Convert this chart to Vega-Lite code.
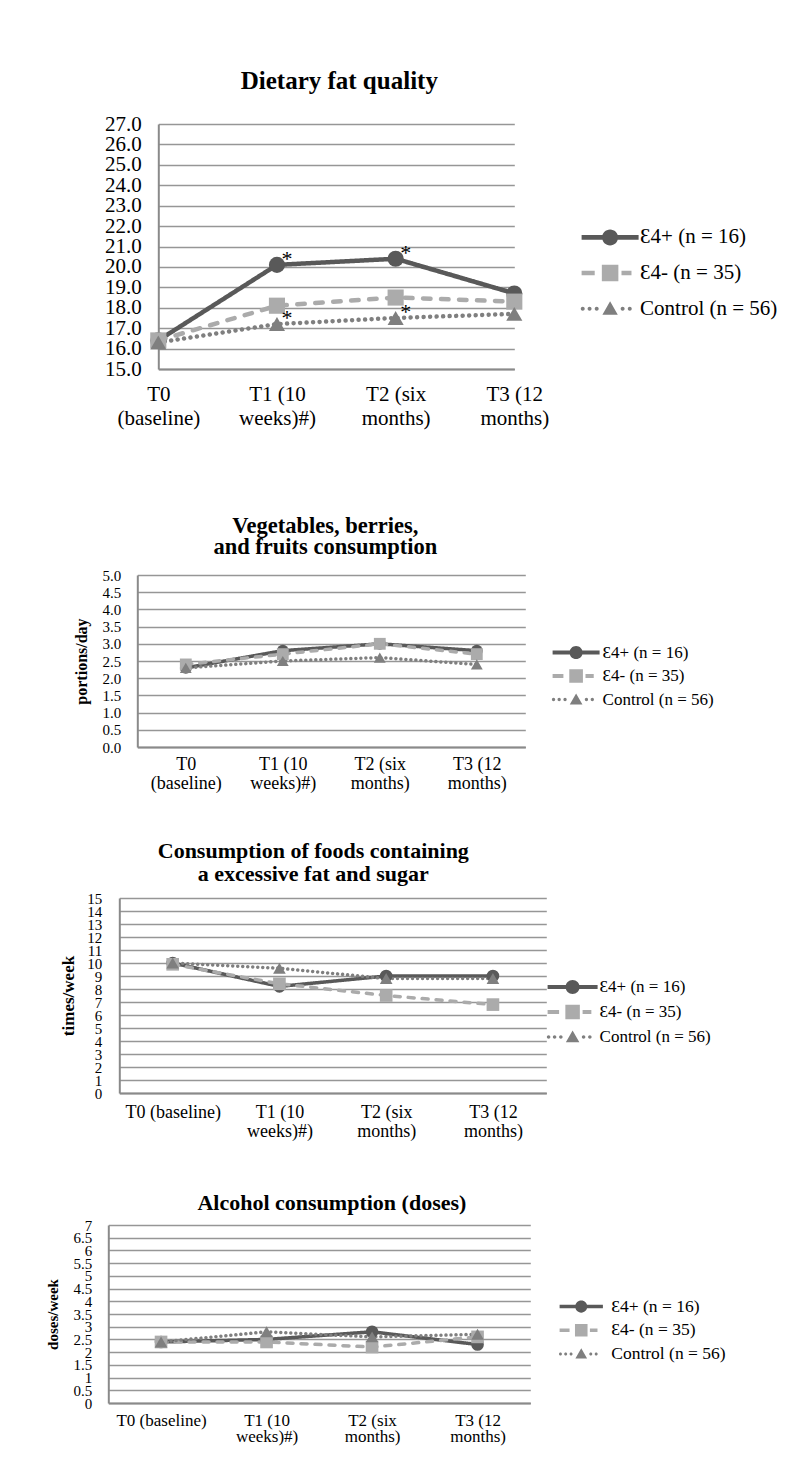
{
  "$schema": "https://vega.github.io/schema/vega-lite/v6.json",
  "background": "white",
  "padding": {"left": 0, "top": 69, "right": 0, "bottom": 5},
  "config": {
    "font": "Liberation Serif",
    "view": {"stroke": null},
    "axis": {"labelColor": "#000", "titleColor": "#000", "ticks": false, "tickSize": 0, "labelOverlap": false, "labelFlush": false, "labelBound": false, "title": null},
    "axisY": {"grid": true, "gridColor": "#969696", "gridWidth": 1.3, "domainColor": "#8a8a8a", "domainWidth": 2},
    "axisX": {"grid": false, "domainColor": "#8a8a8a", "domainWidth": 2, "labelAngle": 0, "labelBaseline": "top"},
    "title": {"color": "#000", "fontWeight": "bold", "anchor": "middle", "frame": "group", "baseline": "bottom"}
  },
  "datasets": {
    "blank": [{}],
    "groups": [
      {"series": "Ɛ4+ (n = 16)"},
      {"series": "Ɛ4- (n = 35)"},
      {"series": "Control (n = 56)"}
    ],
    "fat": [
      {"series": "Ɛ4+ (n = 16)", "time": "T0 (baseline)", "value": 16.4},
      {"series": "Ɛ4+ (n = 16)", "time": "T1 (10 weeks)#)", "value": 20.1},
      {"series": "Ɛ4+ (n = 16)", "time": "T2 (six months)", "value": 20.4},
      {"series": "Ɛ4+ (n = 16)", "time": "T3 (12 months)", "value": 18.7},
      {"series": "Ɛ4- (n = 35)", "time": "T0 (baseline)", "value": 16.4},
      {"series": "Ɛ4- (n = 35)", "time": "T1 (10 weeks)#)", "value": 18.1},
      {"series": "Ɛ4- (n = 35)", "time": "T2 (six months)", "value": 18.5},
      {"series": "Ɛ4- (n = 35)", "time": "T3 (12 months)", "value": 18.3},
      {"series": "Control (n = 56)", "time": "T0 (baseline)", "value": 16.3},
      {"series": "Control (n = 56)", "time": "T1 (10 weeks)#)", "value": 17.2},
      {"series": "Control (n = 56)", "time": "T2 (six months)", "value": 17.5},
      {"series": "Control (n = 56)", "time": "T3 (12 months)", "value": 17.7}
    ],
    "stars": [
      {"time": "T1 (10 weeks)#)", "value": 20.1, "label": "*"},
      {"time": "T2 (six months)", "value": 20.4, "label": "*"},
      {"time": "T1 (10 weeks)#)", "value": 17.2, "label": "*"},
      {"time": "T2 (six months)", "value": 17.5, "label": "*"}
    ],
    "veg": [
      {"series": "Ɛ4+ (n = 16)", "time": "T0 (baseline)", "value": 2.3},
      {"series": "Ɛ4+ (n = 16)", "time": "T1 (10 weeks)#)", "value": 2.8},
      {"series": "Ɛ4+ (n = 16)", "time": "T2 (six months)", "value": 3.0},
      {"series": "Ɛ4+ (n = 16)", "time": "T3 (12 months)", "value": 2.8},
      {"series": "Ɛ4- (n = 35)", "time": "T0 (baseline)", "value": 2.4},
      {"series": "Ɛ4- (n = 35)", "time": "T1 (10 weeks)#)", "value": 2.7},
      {"series": "Ɛ4- (n = 35)", "time": "T2 (six months)", "value": 3.0},
      {"series": "Ɛ4- (n = 35)", "time": "T3 (12 months)", "value": 2.7},
      {"series": "Control (n = 56)", "time": "T0 (baseline)", "value": 2.3},
      {"series": "Control (n = 56)", "time": "T1 (10 weeks)#)", "value": 2.5},
      {"series": "Control (n = 56)", "time": "T2 (six months)", "value": 2.6},
      {"series": "Control (n = 56)", "time": "T3 (12 months)", "value": 2.4}
    ],
    "sugar": [
      {"series": "Ɛ4+ (n = 16)", "time": "T0 (baseline)", "value": 10.0},
      {"series": "Ɛ4+ (n = 16)", "time": "T1 (10 weeks)#)", "value": 8.2},
      {"series": "Ɛ4+ (n = 16)", "time": "T2 (six months)", "value": 9.0},
      {"series": "Ɛ4+ (n = 16)", "time": "T3 (12 months)", "value": 9.0},
      {"series": "Ɛ4- (n = 35)", "time": "T0 (baseline)", "value": 9.9},
      {"series": "Ɛ4- (n = 35)", "time": "T1 (10 weeks)#)", "value": 8.4},
      {"series": "Ɛ4- (n = 35)", "time": "T2 (six months)", "value": 7.5},
      {"series": "Ɛ4- (n = 35)", "time": "T3 (12 months)", "value": 6.8},
      {"series": "Control (n = 56)", "time": "T0 (baseline)", "value": 10.0},
      {"series": "Control (n = 56)", "time": "T1 (10 weeks)#)", "value": 9.6},
      {"series": "Control (n = 56)", "time": "T2 (six months)", "value": 8.8},
      {"series": "Control (n = 56)", "time": "T3 (12 months)", "value": 8.8}
    ],
    "alcohol": [
      {"series": "Ɛ4+ (n = 16)", "time": "T0 (baseline)", "value": 2.4},
      {"series": "Ɛ4+ (n = 16)", "time": "T1 (10 weeks)#)", "value": 2.5},
      {"series": "Ɛ4+ (n = 16)", "time": "T2 (six months)", "value": 2.8},
      {"series": "Ɛ4+ (n = 16)", "time": "T3 (12 months)", "value": 2.3},
      {"series": "Ɛ4- (n = 35)", "time": "T0 (baseline)", "value": 2.4},
      {"series": "Ɛ4- (n = 35)", "time": "T1 (10 weeks)#)", "value": 2.4},
      {"series": "Ɛ4- (n = 35)", "time": "T2 (six months)", "value": 2.2},
      {"series": "Ɛ4- (n = 35)", "time": "T3 (12 months)", "value": 2.6},
      {"series": "Control (n = 56)", "time": "T0 (baseline)", "value": 2.4},
      {"series": "Control (n = 56)", "time": "T1 (10 weeks)#)", "value": 2.8},
      {"series": "Control (n = 56)", "time": "T2 (six months)", "value": 2.6},
      {"series": "Control (n = 56)", "time": "T3 (12 months)", "value": 2.7}
    ]
  },
  "columns": 1,
  "spacing": 10,
  "concat": [
    {
      "spacing": 67.3, "bounds": "flush",
      "resolve": {"scale": {"color": "independent", "shape": "independent", "strokeDash": "independent"}},
      "hconcat": [
        {"width": 91, "height": 10, "data": {"name": "blank"}, "mark": {"type": "point", "opacity": 0}},
        {
          "width": 356, "height": 245,
          "title": {"text": "Dietary fat quality", "fontSize": 25, "offset": 19, "dx": 3},
          "data": {"name": "fat"},
          "encoding": {
            "x": {"field": "time", "type": "ordinal", "sort": null,
              "scale": {"type": "point", "padding": 0, "domain": ["T0 (baseline)", "T1 (10 weeks)#)", "T2 (six months)", "T3 (12 months)"]},
              "axis": {"labelFontSize": 21, "labelLineHeight": 24, "labelPadding": 14, "minExtent": 136, "maxExtent": 136,
                "labelExpr": "[substring(datum.label, 0, lastindexof(datum.label, ' ')), substring(datum.label, lastindexof(datum.label, ' ') + 1)]"}},
            "y": {"field": "value", "type": "quantitative",
              "scale": {"domain": [15, 27], "nice": false, "zero": false},
              "axis": {"values": [15, 16, 17, 18, 19, 20, 21, 22, 23, 24, 25, 26, 27], "format": ".1f", "labelFontSize": 21, "labelPadding": 17, "minExtent": 158, "maxExtent": 158}},
            "color": {"field": "series", "type": "nominal", "scale": {"domain": ["Ɛ4+ (n = 16)", "Ɛ4- (n = 35)", "Control (n = 56)"], "range": ["#595959", "#ababab", "#7f7f7f"]}, "legend": null}
          },
          "layer": [
            {"mark": {"type": "line", "strokeWidth": 4.5, "strokeCap": "round"},
              "encoding": {"strokeDash": {"field": "series", "type": "nominal", "scale": {"domain": ["Ɛ4+ (n = 16)", "Ɛ4- (n = 35)", "Control (n = 56)"], "range": [[1, 0], [7.5, 10.5], [0.01, 6.5]]}, "legend": null}}},
            {"mark": {"type": "point", "filled": true, "opacity": 1, "size": 260},
              "encoding": {"shape": {"field": "series", "type": "nominal", "scale": {"domain": ["Ɛ4+ (n = 16)", "Ɛ4- (n = 35)", "Control (n = 56)"], "range": ["circle", "square", "triangle-up"]}, "legend": null}}},
            {"data": {"name": "stars"},
              "mark": {"type": "text", "fontSize": 22, "dx": 10, "dy": 1, "baseline": "alphabetic"},
              "encoding": {"text": {"field": "label"}, "color": {"value": "#000"}}}
          ]
        },
        {
          "width": 57, "height": 245,
          "data": {"name": "groups"},
          "encoding": {
            "y": {"field": "series", "type": "nominal", "sort": null, "axis": null,
              "scale": {"type": "point", "domain": ["Ɛ4+ (n = 16)", "Ɛ4- (n = 35)", "Control (n = 56)"], "padding": 0, "range": [113.4, 184.7]}}
          },
          "layer": [
            {"mark": {"type": "point", "filled": true, "opacity": 1, "size": 3249},
              "encoding": {
                "color": {"field": "series", "type": "nominal", "scale": {"domain": ["Ɛ4+ (n = 16)", "Ɛ4- (n = 35)", "Control (n = 56)"], "range": ["#595959", "#ababab", "#7f7f7f"]}, "legend": null},
                "shape": {"field": "series", "type": "nominal", "legend": null, "scale": {"domain": ["Ɛ4+ (n = 16)", "Ɛ4- (n = 35)", "Control (n = 56)"],
                  "range": ["M-1,-0.08H1V0.08H-1Z M-0.28,0 A0.28,0.28 0 1 1 0.28,0 A0.28,0.28 0 1 1 -0.28,0 Z",
                            "M-1,-0.08H-0.54V0.08H-1Z M-0.29,-0.29H0.29V0.29H-0.29Z M0.4,-0.08H0.75V0.08H0.4Z",
                            "M-1.03,0 A0.07,0.07 0 1 1 -0.89,0 A0.07,0.07 0 1 1 -1.03,0 Z M-0.79,0 A0.07,0.07 0 1 1 -0.65,0 A0.07,0.07 0 1 1 -0.79,0 Z M-0.54,0 A0.07,0.07 0 1 1 -0.4,0 A0.07,0.07 0 1 1 -0.54,0 Z M0.37,0 A0.07,0.07 0 1 1 0.51,0 A0.07,0.07 0 1 1 0.37,0 Z M0.62,0 A0.07,0.07 0 1 1 0.76,0 A0.07,0.07 0 1 1 0.62,0 Z M0,-0.26 L0.27,0.21 L-0.27,0.21 Z"]}}
              }},
            {"mark": {"type": "text", "align": "left", "baseline": "middle", "dx": 30, "fontSize": 21},
              "encoding": {"text": {"field": "series"}, "color": {"value": "#000"}}}
          ]
        }
      ]
    },
    {
      "spacing": 27.3, "bounds": "flush",
      "resolve": {"scale": {"color": "independent", "shape": "independent", "strokeDash": "independent"}},
      "hconcat": [
        {"width": 110, "height": 10, "data": {"name": "blank"}, "mark": {"type": "point", "opacity": 0}},
        {
          "width": 388, "height": 172,
          "title": {"text": ["Vegetables, berries,", "and fruits consumption"], "fontSize": 22.5, "lineHeight": 21, "offset": 9.5, "dx": -6},
          "data": {"name": "veg"},
          "encoding": {
            "x": {"field": "time", "type": "ordinal", "sort": null,
              "scale": {"type": "point", "padding": 0.5, "domain": ["T0 (baseline)", "T1 (10 weeks)#)", "T2 (six months)", "T3 (12 months)"]},
              "axis": {"labelFontSize": 18, "labelLineHeight": 19, "labelPadding": 8, "minExtent": 82.5, "maxExtent": 82.5,
                "labelExpr": "[substring(datum.label, 0, lastindexof(datum.label, ' ')), substring(datum.label, lastindexof(datum.label, ' ') + 1)]"}},
            "y": {"field": "value", "type": "quantitative",
              "scale": {"domain": [0, 5], "nice": false},
              "axis": {"values": [0, 0.5, 1, 1.5, 2, 2.5, 3, 3.5, 4, 4.5, 5], "format": ".1f", "labelFontSize": 15, "labelPadding": 16.5, "minExtent": 137, "maxExtent": 137,
                "title": "portions/day", "titleFontSize": 16, "titleFontWeight": "bold", "titleX": -56, "titleY": 86, "titleAngle": 270, "titleBaseline": "middle", "titleAlign": "center"}},
            "color": {"field": "series", "type": "nominal", "scale": {"domain": ["Ɛ4+ (n = 16)", "Ɛ4- (n = 35)", "Control (n = 56)"], "range": ["#595959", "#ababab", "#7f7f7f"]}, "legend": null}
          },
          "layer": [
            {"mark": {"type": "line", "strokeWidth": 3.5, "strokeCap": "round"},
              "encoding": {"strokeDash": {"field": "series", "type": "nominal", "scale": {"domain": ["Ɛ4+ (n = 16)", "Ɛ4- (n = 35)", "Control (n = 56)"], "range": [[1, 0], [6, 8], [0.01, 5]]}, "legend": null}}},
            {"mark": {"type": "point", "filled": true, "opacity": 1, "size": 140},
              "encoding": {"shape": {"field": "series", "type": "nominal", "scale": {"domain": ["Ɛ4+ (n = 16)", "Ɛ4- (n = 35)", "Control (n = 56)"], "range": ["circle", "square", "triangle-up"]}, "legend": null}}}
          ]
        },
        {
          "width": 47, "height": 172,
          "data": {"name": "groups"},
          "encoding": {
            "y": {"field": "series", "type": "nominal", "sort": null, "axis": null,
              "scale": {"type": "point", "domain": ["Ɛ4+ (n = 16)", "Ɛ4- (n = 35)", "Control (n = 56)"], "padding": 0, "range": [77.5, 124.5]}}
          },
          "layer": [
            {"mark": {"type": "point", "filled": true, "opacity": 1, "size": 2209},
              "encoding": {
                "color": {"field": "series", "type": "nominal", "scale": {"domain": ["Ɛ4+ (n = 16)", "Ɛ4- (n = 35)", "Control (n = 56)"], "range": ["#595959", "#ababab", "#7f7f7f"]}, "legend": null},
                "shape": {"field": "series", "type": "nominal", "legend": null, "scale": {"domain": ["Ɛ4+ (n = 16)", "Ɛ4- (n = 35)", "Control (n = 56)"],
                  "range": ["M-1,-0.08H1V0.08H-1Z M-0.28,0 A0.28,0.28 0 1 1 0.28,0 A0.28,0.28 0 1 1 -0.28,0 Z",
                            "M-1,-0.08H-0.54V0.08H-1Z M-0.29,-0.29H0.29V0.29H-0.29Z M0.4,-0.08H0.75V0.08H0.4Z",
                            "M-1.03,0 A0.07,0.07 0 1 1 -0.89,0 A0.07,0.07 0 1 1 -1.03,0 Z M-0.79,0 A0.07,0.07 0 1 1 -0.65,0 A0.07,0.07 0 1 1 -0.79,0 Z M-0.54,0 A0.07,0.07 0 1 1 -0.4,0 A0.07,0.07 0 1 1 -0.54,0 Z M0.37,0 A0.07,0.07 0 1 1 0.51,0 A0.07,0.07 0 1 1 0.37,0 Z M0.62,0 A0.07,0.07 0 1 1 0.76,0 A0.07,0.07 0 1 1 0.62,0 Z M0,-0.26 L0.27,0.21 L-0.27,0.21 Z"]}}
              }},
            {"mark": {"type": "text", "align": "left", "baseline": "middle", "dx": 26.5, "fontSize": 17},
              "encoding": {"text": {"field": "series"}, "color": {"value": "#000"}}}
          ]
        }
      ]
    },
    {
      "spacing": 1.3, "bounds": "flush",
      "resolve": {"scale": {"color": "independent", "shape": "independent", "strokeDash": "independent"}},
      "hconcat": [
        {"width": 118, "height": 10, "data": {"name": "blank"}, "mark": {"type": "point", "opacity": 0}},
        {
          "width": 427, "height": 195,
          "title": {"text": ["Consumption of foods containing", "a excessive fat and sugar"], "fontSize": 22, "lineHeight": 23, "offset": 5, "dx": -19.5},
          "data": {"name": "sugar"},
          "encoding": {
            "x": {"field": "time", "type": "ordinal", "sort": null,
              "scale": {"type": "point", "padding": 0.5, "domain": ["T0 (baseline)", "T1 (10 weeks)#)", "T2 (six months)", "T3 (12 months)"]},
              "axis": {"labelFontSize": 18, "labelLineHeight": 19, "labelPadding": 10, "minExtent": 88.7, "maxExtent": 88.7,
                "labelExpr": "datum.label == 'T0 (baseline)' ? datum.label : [substring(datum.label, 0, lastindexof(datum.label, ' ')), substring(datum.label, lastindexof(datum.label, ' ') + 1)]"}},
            "y": {"field": "value", "type": "quantitative",
              "scale": {"domain": [0, 15], "nice": false},
              "axis": {"values": [0, 1, 2, 3, 4, 5, 6, 7, 8, 9, 10, 11, 12, 13, 14, 15], "format": "d", "labelFontSize": 15, "labelPadding": 17.5, "minExtent": 119, "maxExtent": 119,
                "title": "times/week", "titleFontSize": 17, "titleFontWeight": "bold", "titleX": -51, "titleY": 97.5, "titleAngle": 270, "titleBaseline": "middle", "titleAlign": "center"}},
            "color": {"field": "series", "type": "nominal", "scale": {"domain": ["Ɛ4+ (n = 16)", "Ɛ4- (n = 35)", "Control (n = 56)"], "range": ["#595959", "#ababab", "#7f7f7f"]}, "legend": null}
          },
          "layer": [
            {"mark": {"type": "line", "strokeWidth": 3.5, "strokeCap": "round"},
              "encoding": {"strokeDash": {"field": "series", "type": "nominal", "scale": {"domain": ["Ɛ4+ (n = 16)", "Ɛ4- (n = 35)", "Control (n = 56)"], "range": [[1, 0], [6, 8], [0.01, 5]]}, "legend": null}}},
            {"mark": {"type": "point", "filled": true, "opacity": 1, "size": 160},
              "encoding": {"shape": {"field": "series", "type": "nominal", "scale": {"domain": ["Ɛ4+ (n = 16)", "Ɛ4- (n = 35)", "Control (n = 56)"], "range": ["circle", "square", "triangle-up"]}, "legend": null}}}
          ]
        },
        {
          "width": 50, "height": 195,
          "data": {"name": "groups"},
          "encoding": {
            "y": {"field": "series", "type": "nominal", "sort": null, "axis": null,
              "scale": {"type": "point", "domain": ["Ɛ4+ (n = 16)", "Ɛ4- (n = 35)", "Control (n = 56)"], "padding": 0, "range": [89, 139]}}
          },
          "layer": [
            {"mark": {"type": "point", "filled": true, "opacity": 1, "size": 2500},
              "encoding": {
                "color": {"field": "series", "type": "nominal", "scale": {"domain": ["Ɛ4+ (n = 16)", "Ɛ4- (n = 35)", "Control (n = 56)"], "range": ["#595959", "#ababab", "#7f7f7f"]}, "legend": null},
                "shape": {"field": "series", "type": "nominal", "legend": null, "scale": {"domain": ["Ɛ4+ (n = 16)", "Ɛ4- (n = 35)", "Control (n = 56)"],
                  "range": ["M-1,-0.08H1V0.08H-1Z M-0.28,0 A0.28,0.28 0 1 1 0.28,0 A0.28,0.28 0 1 1 -0.28,0 Z",
                            "M-1,-0.08H-0.54V0.08H-1Z M-0.29,-0.29H0.29V0.29H-0.29Z M0.4,-0.08H0.75V0.08H0.4Z",
                            "M-1.03,0 A0.07,0.07 0 1 1 -0.89,0 A0.07,0.07 0 1 1 -1.03,0 Z M-0.79,0 A0.07,0.07 0 1 1 -0.65,0 A0.07,0.07 0 1 1 -0.79,0 Z M-0.54,0 A0.07,0.07 0 1 1 -0.4,0 A0.07,0.07 0 1 1 -0.54,0 Z M0.37,0 A0.07,0.07 0 1 1 0.51,0 A0.07,0.07 0 1 1 0.37,0 Z M0.62,0 A0.07,0.07 0 1 1 0.76,0 A0.07,0.07 0 1 1 0.62,0 Z M0,-0.26 L0.27,0.21 L-0.27,0.21 Z"]}}
              }},
            {"mark": {"type": "text", "align": "left", "baseline": "middle", "dx": 27, "fontSize": 17},
              "encoding": {"text": {"field": "series"}, "color": {"value": "#000"}}}
          ]
        }
      ]
    },
    {
      "spacing": 29.3, "bounds": "flush",
      "resolve": {"scale": {"color": "independent", "shape": "independent", "strokeDash": "independent"}},
      "hconcat": [
        {"width": 79, "height": 10, "data": {"name": "blank"}, "mark": {"type": "point", "opacity": 0}},
        {
          "width": 422, "height": 178,
          "title": {"text": "Alcohol consumption (doses)", "fontSize": 22, "offset": 3, "dx": 12.6},
          "data": {"name": "alcohol"},
          "encoding": {
            "x": {"field": "time", "type": "ordinal", "sort": null,
              "scale": {"type": "point", "padding": 0.5, "domain": ["T0 (baseline)", "T1 (10 weeks)#)", "T2 (six months)", "T3 (12 months)"]},
              "axis": {"labelFontSize": 17, "labelLineHeight": 16, "labelPadding": 9,
                "labelExpr": "datum.label == 'T0 (baseline)' ? datum.label : [substring(datum.label, 0, lastindexof(datum.label, ' ')), substring(datum.label, lastindexof(datum.label, ' ') + 1)]"}},
            "y": {"field": "value", "type": "quantitative",
              "scale": {"domain": [0, 7], "nice": false},
              "axis": {"values": [0, 0.5, 1, 1.5, 2, 2.5, 3, 3.5, 4, 4.5, 5, 5.5, 6, 6.5, 7], "format": "~g", "labelFontSize": 15, "labelPadding": 16.5, "minExtent": 108, "maxExtent": 108,
                "title": "doses/week", "titleFontSize": 15, "titleFontWeight": "bold", "titleX": -56, "titleY": 89, "titleAngle": 270, "titleBaseline": "middle", "titleAlign": "center"}},
            "color": {"field": "series", "type": "nominal", "scale": {"domain": ["Ɛ4+ (n = 16)", "Ɛ4- (n = 35)", "Control (n = 56)"], "range": ["#595959", "#ababab", "#7f7f7f"]}, "legend": null}
          },
          "layer": [
            {"mark": {"type": "line", "strokeWidth": 3.5, "strokeCap": "round"},
              "encoding": {"strokeDash": {"field": "series", "type": "nominal", "scale": {"domain": ["Ɛ4+ (n = 16)", "Ɛ4- (n = 35)", "Control (n = 56)"], "range": [[1, 0], [6, 8], [0.01, 5]]}, "legend": null}}},
            {"mark": {"type": "point", "filled": true, "opacity": 1, "size": 160},
              "encoding": {"shape": {"field": "series", "type": "nominal", "scale": {"domain": ["Ɛ4+ (n = 16)", "Ɛ4- (n = 35)", "Control (n = 56)"], "range": ["circle", "square", "triangle-up"]}, "legend": null}}}
          ]
        },
        {
          "width": 43.3, "height": 178,
          "data": {"name": "groups"},
          "encoding": {
            "y": {"field": "series", "type": "nominal", "sort": null, "axis": null,
              "scale": {"type": "point", "domain": ["Ɛ4+ (n = 16)", "Ɛ4- (n = 35)", "Control (n = 56)"], "padding": 0, "range": [81.6, 129]}}
          },
          "layer": [
            {"mark": {"type": "point", "filled": true, "opacity": 1, "size": 1875},
              "encoding": {
                "color": {"field": "series", "type": "nominal", "scale": {"domain": ["Ɛ4+ (n = 16)", "Ɛ4- (n = 35)", "Control (n = 56)"], "range": ["#595959", "#ababab", "#7f7f7f"]}, "legend": null},
                "shape": {"field": "series", "type": "nominal", "legend": null, "scale": {"domain": ["Ɛ4+ (n = 16)", "Ɛ4- (n = 35)", "Control (n = 56)"],
                  "range": ["M-1,-0.08H1V0.08H-1Z M-0.28,0 A0.28,0.28 0 1 1 0.28,0 A0.28,0.28 0 1 1 -0.28,0 Z",
                            "M-1,-0.08H-0.54V0.08H-1Z M-0.29,-0.29H0.29V0.29H-0.29Z M0.4,-0.08H0.75V0.08H0.4Z",
                            "M-1.03,0 A0.07,0.07 0 1 1 -0.89,0 A0.07,0.07 0 1 1 -1.03,0 Z M-0.79,0 A0.07,0.07 0 1 1 -0.65,0 A0.07,0.07 0 1 1 -0.79,0 Z M-0.54,0 A0.07,0.07 0 1 1 -0.4,0 A0.07,0.07 0 1 1 -0.54,0 Z M0.37,0 A0.07,0.07 0 1 1 0.51,0 A0.07,0.07 0 1 1 0.37,0 Z M0.62,0 A0.07,0.07 0 1 1 0.76,0 A0.07,0.07 0 1 1 0.62,0 Z M0,-0.26 L0.27,0.21 L-0.27,0.21 Z"]}}
              }},
            {"mark": {"type": "text", "align": "left", "baseline": "middle", "dx": 30, "fontSize": 17.5},
              "encoding": {"text": {"field": "series"}, "color": {"value": "#000"}}}
          ]
        }
      ]
    }
  ],
  "resolve": {"scale": {"color": "independent", "shape": "independent", "strokeDash": "independent"}}
}
